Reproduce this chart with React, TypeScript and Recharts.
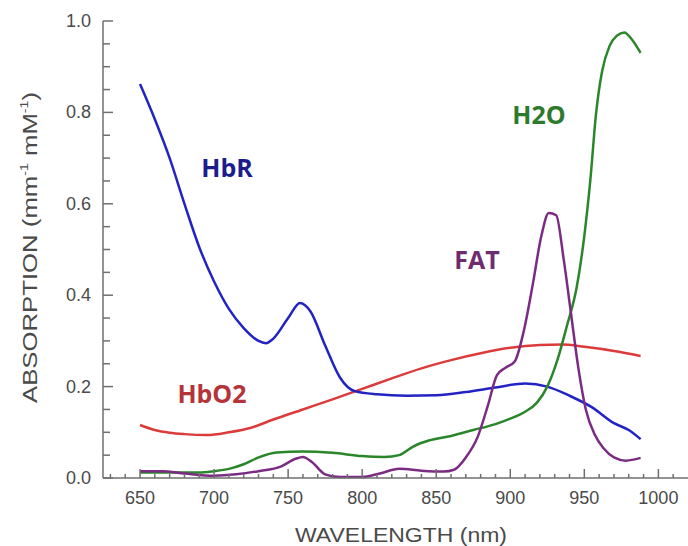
import React from 'react';
import { LineChart, Line, XAxis, YAxis } from 'recharts';

// absorption spectra
const hbrWl = [650, 660, 670, 680, 690, 700, 710, 720, 730, 735, 740, 750, 758, 765, 775, 785, 795, 810, 830, 850, 870, 890, 910, 925, 940, 955, 970, 980, 988];
const hbrVal = [0.862, 0.785, 0.7, 0.6, 0.505, 0.43, 0.37, 0.328, 0.3, 0.295, 0.305, 0.35, 0.383, 0.365, 0.29, 0.22, 0.19, 0.183, 0.18, 0.181, 0.188, 0.198, 0.207, 0.2, 0.18, 0.155, 0.12, 0.105, 0.085];

const hbo2Wl = [650, 660, 670, 680, 695, 710, 725, 740, 760, 780, 800, 820, 840, 860, 880, 900, 920, 935, 950, 970, 988];
const hbo2Val = [0.116, 0.105, 0.099, 0.096, 0.094, 0.1, 0.11, 0.128, 0.15, 0.172, 0.195, 0.218, 0.24, 0.258, 0.273, 0.285, 0.291, 0.292, 0.287, 0.278, 0.267];

const h2oWl = [650, 670, 690, 700, 710, 720, 730, 742, 760, 780, 800, 815, 825, 835, 845, 860, 875, 890, 900, 910, 918, 925, 932, 938, 945, 950, 954, 958, 962, 967, 972, 977, 982, 988];
const h2oVal = [0.012, 0.012, 0.012, 0.015, 0.02, 0.03, 0.045, 0.056, 0.058, 0.055, 0.048, 0.046, 0.05, 0.07, 0.082, 0.092, 0.105, 0.118, 0.13, 0.145, 0.165, 0.2, 0.26, 0.33, 0.42, 0.53, 0.65, 0.8, 0.89, 0.945, 0.968, 0.975, 0.96, 0.93];

const fatWl = [650, 665, 680, 700, 715, 730, 745, 755, 760, 766, 775, 785, 800, 812, 825, 840, 855, 862, 870, 878, 885, 891, 897, 903, 909, 915, 921, 926, 931, 936, 941, 946, 951, 957, 963, 970, 978, 988];
const fatVal = [0.015, 0.015, 0.01, 0.005, 0.008, 0.015, 0.025, 0.042, 0.046, 0.035, 0.008, 0.002, 0.002, 0.01, 0.02, 0.016, 0.014, 0.018, 0.045, 0.09, 0.16, 0.225, 0.242, 0.255, 0.32, 0.42, 0.53, 0.58, 0.575, 0.48, 0.36, 0.24, 0.15, 0.095, 0.065, 0.045, 0.038, 0.044];

const xMajor = [650, 700, 750, 800, 850, 900, 950, 1000];
const yMajor = [0, 0.2, 0.4, 0.6, 0.8, 1.0];

const xTicks: number[] = [];
for (let w = 630; w <= 1010; w += 10) xTicks.push(w);
const yTicks: number[] = [];
for (let i = 0; i <= 20; i++) yTicks.push(+(i * 0.05).toFixed(2));

const toPts = (wl: number[], vals: number[]) => wl.map((w, i) => ({ w, v: vals[i] }));

const axisGray = '#6f6f6f';
const textGray = '#4a4a4a';

function XTick({ x, y, payload }: any) {
  const major = xMajor.includes(payload.value);
  return (
    <g>
      <line x1={x} x2={x} y1={y} y2={y - (major ? 9 : 4)} stroke={axisGray} strokeWidth={1.5} />
      {major && (
        <text x={x} y={y + 26} textAnchor="middle" fontSize={18} fill={textGray} fontFamily="Liberation Sans, Arial">
          {payload.value}
        </text>
      )}
    </g>
  );
}

function YTick({ x, y, payload }: any) {
  const major = yMajor.some(m => Math.abs(m - payload.value) < 1e-6);
  return (
    <g>
      <line x1={x} x2={x + (major ? 10 : 7)} y1={y} y2={y} stroke={axisGray} strokeWidth={1.5} />
      {major && (
        <text x={x - 12} y={y + 6} textAnchor="end" fontSize={18} fill={textGray} fontFamily="Liberation Sans, Arial">
          {payload.value.toFixed(1)}
        </text>
      )}
    </g>
  );
}

const seriesLabel = { fontFamily: 'Open Sans, sans-serif', fontWeight: 700, fontSize: 25 } as const;

export default function App() {
  return (
    <div style={{ position: 'absolute', left: 0, top: 0, width: 688, height: 546, background: '#fff' }}>
      <LineChart width={688} height={546} margin={{ top: 21, right: 0, left: 0, bottom: 0 }}>
        <XAxis
          dataKey="w"
          type="number"
          domain={[625, 1020]}
          ticks={xTicks}
          interval={0}
          allowDataOverflow
          height={68}
          tickSize={0}
          tickMargin={0}
          tickLine={false}
          axisLine={{ stroke: axisGray, strokeWidth: 1.5 }}
          tick={<XTick />}
        />
        <YAxis
          dataKey="v"
          type="number"
          domain={[0, 1]}
          ticks={yTicks}
          interval={0}
          width={103}
          tickSize={0}
          tickMargin={0}
          tickLine={false}
          axisLine={{ stroke: axisGray, strokeWidth: 1.5 }}
          tick={<YTick />}
        />
        <Line data={toPts(hbo2Wl, hbo2Val)} dataKey="v" type="monotone" stroke="#dc3b3b" strokeWidth={2.5} dot={false} isAnimationActive={false} />
        <Line data={toPts(hbrWl, hbrVal)} dataKey="v" type="monotone" stroke="#2323c4" strokeWidth={2.5} dot={false} isAnimationActive={false} />
        <Line data={toPts(h2oWl, h2oVal)} dataKey="v" type="monotone" stroke="#2a862a" strokeWidth={2.5} dot={false} isAnimationActive={false} />
        <Line data={toPts(fatWl, fatVal)} dataKey="v" type="monotone" stroke="#7b2b84" strokeWidth={2.5} dot={false} isAnimationActive={false} />
      </LineChart>
      <svg width={688} height={546} style={{ position: 'absolute', left: 0, top: 0, pointerEvents: 'none' }}>
        <text transform="translate(37,247.5) rotate(-90)" textAnchor="middle" fontSize={20} fill={textGray} fontFamily="Liberation Sans, Arial" textLength={311} lengthAdjust="spacingAndGlyphs">
          ABSORPTION (mm<tspan fontSize={11} dy={-9}>-1</tspan><tspan dy={9}> mM</tspan><tspan fontSize={11} dy={-9}>-1</tspan><tspan dy={9}>)</tspan>
        </text>
        <text x={401} y={542} textAnchor="middle" fontSize={21} fill={textGray} fontFamily="Liberation Sans, Arial" textLength={212} lengthAdjust="spacingAndGlyphs">
          WAVELENGTH (nm)
        </text>
        <text x={227} y={177} textAnchor="middle" fill="#1c1c8e" style={seriesLabel}>HbR</text>
        <text x={212} y={403} textAnchor="middle" fill="#b5343a" style={seriesLabel}>HbO2</text>
        <text x={539} y={124} textAnchor="middle" fill="#2d7a2d" style={seriesLabel}>H2O</text>
        <text x={477} y={269} textAnchor="middle" fill="#6e2c70" style={seriesLabel}>FAT</text>
      </svg>
    </div>
  );
}
